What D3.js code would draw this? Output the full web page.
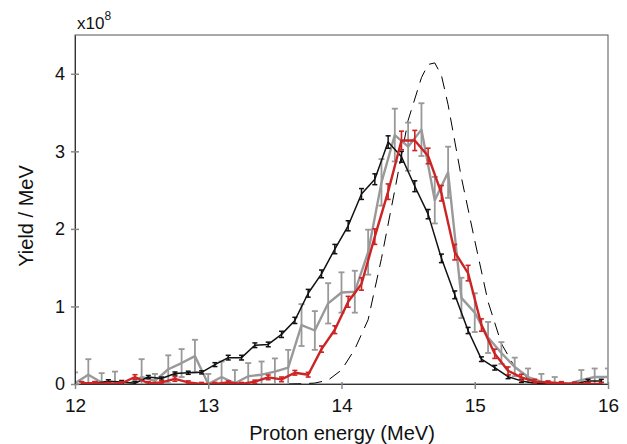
<!DOCTYPE html>
<html>
<head>
<meta charset="utf-8">
<script src="https://cdn.jsdelivr.net/npm/d3@7"></script>
<style>
  body { margin: 0; background: #fff; }
  text { font-family: Arial, "Liberation Sans", sans-serif; fill: #111; }
</style>
</head>
<body>
<div id="chart"></div>
<script>
const width = 627, height = 444;

// bin centres (MeV) for the black and red spectra
const binsA = [12.05, 12.15, 12.25, 12.35, 12.45, 12.55, 12.65, 12.75, 12.85, 12.95,
  13.05, 13.15, 13.25, 13.35, 13.45, 13.55, 13.65, 13.75, 13.85, 13.95,
  14.05, 14.15, 14.25, 14.35, 14.45, 14.55, 14.65, 14.75, 14.85, 14.95,
  15.05, 15.15, 15.25, 15.35, 15.45, 15.55, 15.65, 15.75, 15.85, 15.95];

// bin centres for the grey spectrum
const binsB = [12.0, 12.1, 12.2, 12.3, 12.4, 12.5, 12.6, 12.7, 12.8, 12.9,
  13.0, 13.1, 13.2, 13.3, 13.4, 13.5, 13.6, 13.7, 13.8, 13.9,
  14.0, 14.1, 14.2, 14.3, 14.4, 14.5, 14.6, 14.7, 14.8, 14.9,
  15.0, 15.1, 15.2, 15.3, 15.4, 15.5, 15.6, 15.7, 15.8, 15.9, 16.0];

// yields in units of 1e8 / MeV
const blackYield = [0.01, 0.01, 0.035, 0.025, 0.01, 0.09, 0.07, 0.135, 0.145, 0.15,
  0.25, 0.34, 0.34, 0.50, 0.51, 0.64, 0.82, 1.17, 1.42, 1.74,
  2.04, 2.45, 2.64, 3.12, 2.93, 2.55, 2.19, 1.62, 1.15, 0.69,
  0.32, 0.21, 0.094, 0.04, 0.01, 0.0, 0.0, 0.0, 0.04, 0.04];
const blackErr = [0.02, 0.02, 0.02, 0.02, 0.02, 0.02, 0.02, 0.02, 0.02, 0.02,
  0.025, 0.03, 0.03, 0.03, 0.03, 0.04, 0.04, 0.05, 0.05, 0.06,
  0.065, 0.07, 0.07, 0.08, 0.07, 0.07, 0.06, 0.055, 0.05, 0.04,
  0.03, 0.03, 0.025, 0.02, 0.02, 0.02, 0.02, 0.02, 0.02, 0.02];

const redYield = [0.01, 0.01, 0.0, 0.01, 0.09, 0.01, 0.02, 0.065, 0.02, 0.0,
  0.0, 0.02, 0.0, 0.03, 0.086, 0.06, 0.145, 0.12, 0.45, 0.70,
  1.06, 1.29, 1.90, 2.48, 3.14, 3.14, 2.94, 2.46, 1.70, 1.43,
  0.76, 0.39, 0.17, 0.086, 0.03, 0.02, 0.01, 0.0, 0.0, 0.0];
const redErr = [0.02, 0.02, 0.02, 0.02, 0.03, 0.02, 0.02, 0.03, 0.02, 0.02,
  0.02, 0.02, 0.02, 0.02, 0.03, 0.03, 0.03, 0.03, 0.04, 0.05,
  0.07, 0.08, 0.1, 0.1, 0.12, 0.13, 0.1, 0.1, 0.1, 0.1,
  0.08, 0.06, 0.05, 0.04, 0.03, 0.02, 0.02, 0.02, 0.02, 0.02];

const greyYield = [0.01, 0.12, 0.02, 0.0, 0.0, 0.09, 0.04, 0.19, 0.27, 0.36,
  0.0, 0.09, 0.01, 0.10, 0.12, 0.16, 0.21, 0.76, 0.69, 1.04,
  1.18, 1.19, 1.70, 2.60, 3.21, 3.06, 3.28, 2.37, 2.73, 1.11,
  0.92, 0.60, 0.40, 0.22, 0.09, 0.03, 0.01, 0.0, 0.05, 0.09, 0.09];
const greyErr = [0.14, 0.2, 0.12, 0.16, 0.0, 0.23, 0.09, 0.18, 0.18, 0.21,
  0.13, 0.2, 0.17, 0.17, 0.17, 0.17, 0.23, 0.27, 0.25, 0.26,
  0.26, 0.27, 0.29, 0.3, 0.34, 0.31, 0.34, 0.3, 0.33, 0.26,
  0.25, 0.2, 0.14, 0.12, 0.11, 0.1, 0.08, 0.0, 0.13, 0.11, 0.11];

// dashed model curve
const modelE = [13.6, 13.7, 13.8, 13.9, 14.0, 14.1, 14.2, 14.3, 14.4, 14.5,
  14.6, 14.65, 14.7, 14.75, 14.8, 14.9, 15.0, 15.1, 15.2, 15.3, 15.4, 15.5, 15.6];
const modelY = [0.0, 0.003, 0.012, 0.05, 0.18, 0.45, 0.83, 1.62, 2.5, 3.4,
  3.95, 4.12, 4.14, 3.98, 3.6, 2.66, 1.85, 1.06, 0.52, 0.22, 0.07, 0.015, 0.0];

const xTicks = [12, 13, 14, 15, 16];
const yTicks = [0, 1, 2, 3, 4];

const x = d3.scaleLinear().domain([12, 16]).range([75, 608]);
const y = d3.scaleLinear().domain([0, 4.5]).range([384, 35]);

let svg = d3.select("#chart")
  .append("svg")
  .attr("width", width)
  .attr("height", height);

svg.append("defs").append("clipPath")
  .attr("id", "plot-clip")
  .append("rect")
  .attr("x", 75).attr("y", 35)
  .attr("width", 533).attr("height", 349);

// frame
svg.append("rect")
  .attr("x", 75).attr("y", 35)
  .attr("width", 533).attr("height", 349)
  .attr("fill", "none")
  .attr("stroke", "#555")
  .attr("stroke-width", 1);

let plot = svg.append("g").attr("clip-path", "url(#plot-clip)");

let line = d3.line()
  .x((d) => x(d[0]))
  .y((d) => y(d[1]));

plot.append("path")
  .datum(d3.zip(modelE, modelY))
  .attr("fill", "none")
  .attr("stroke", "#000")
  .attr("stroke-width", 1)
  .attr("stroke-dasharray", "13,8")
  .attr("d", line);

function drawSeries(bins, values, errs, color, lineWidth, errWidth, cap) {
  let pts = d3.zip(bins, values, errs);
  let g = plot.append("g");

  let bars = g.selectAll("g.err")
    .data(pts.filter((d) => d[2] > 0))
    .enter().append("g")
    .attr("class", "err")
    .attr("stroke", color)
    .attr("stroke-width", errWidth);
  bars.append("line")
    .attr("x1", (d) => x(d[0])).attr("x2", (d) => x(d[0]))
    .attr("y1", (d) => y(d[1] - d[2])).attr("y2", (d) => y(d[1] + d[2]));
  bars.append("line")
    .attr("x1", (d) => x(d[0]) - cap).attr("x2", (d) => x(d[0]) + cap)
    .attr("y1", (d) => y(d[1] + d[2])).attr("y2", (d) => y(d[1] + d[2]));
  bars.append("line")
    .attr("x1", (d) => x(d[0]) - cap).attr("x2", (d) => x(d[0]) + cap)
    .attr("y1", (d) => y(d[1] - d[2])).attr("y2", (d) => y(d[1] - d[2]));

  g.append("path")
    .datum(pts)
    .attr("fill", "none")
    .attr("stroke", color)
    .attr("stroke-width", lineWidth)
    .attr("stroke-linejoin", "round")
    .attr("d", line);
}

drawSeries(binsB, greyYield, greyErr, "#999999", 2.4, 1.8, 3);
drawSeries(binsA, blackYield, blackErr, "#111111", 1.5, 1.5, 2.5);
drawSeries(binsA, redYield, redErr, "#cc2424", 2.4, 1.6, 2.5);

// axes
let xAxis = svg.append("g")
  .attr("transform", "translate(0,384)")
  .call(d3.axisBottom(x).tickValues(xTicks).tickFormat(d3.format("d")).tickSizeOuter(0));
xAxis.select(".domain").attr("stroke", "#333");
xAxis.selectAll(".tick line").attr("y1", -2).attr("y2", 5).attr("stroke", "#888").attr("stroke-width", 1.5);
xAxis.selectAll(".tick text")
  .attr("dy", null).attr("y", 28)
  .attr("font-size", 19).attr("fill", "#111")
  .style("font-family", "Arial, 'Liberation Sans', sans-serif");

let yAxis = svg.append("g")
  .attr("transform", "translate(75,0)")
  .call(d3.axisLeft(y).tickValues(yTicks).tickFormat(d3.format("d")).tickSizeOuter(0));
yAxis.select(".domain").attr("stroke", "#333");
yAxis.selectAll(".tick line").attr("x1", -4).attr("x2", 4).attr("stroke", "#888").attr("stroke-width", 1.5);
yAxis.selectAll(".tick text")
  .attr("x", -10)
  .attr("font-size", 18).attr("fill", "#111")
  .style("font-family", "Arial, 'Liberation Sans', sans-serif");

// exponent label
let expo = svg.append("text")
  .attr("x", 77).attr("y", 29)
  .attr("font-size", 17);
expo.append("tspan").text("x10");
expo.append("tspan").attr("dy", -9).attr("font-size", 12).text("8");

svg.append("text")
  .attr("x", 342).attr("y", 440)
  .attr("text-anchor", "middle")
  .attr("font-size", 20)
  .text("Proton energy (MeV)");

svg.append("text")
  .attr("transform", "translate(33,216) rotate(-90)")
  .attr("text-anchor", "middle")
  .attr("font-size", 20)
  .text("Yield / MeV");
</script>
</body>
</html>
